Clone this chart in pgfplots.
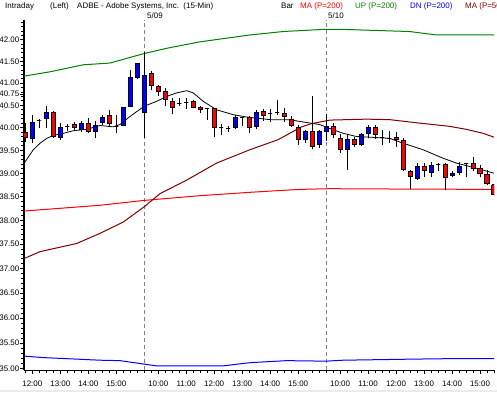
\documentclass[border=0pt]{standalone}
\usepackage{pgfplots}
\pgfplotsset{compat=1.18}
\usepackage{pgfplotstable}
\usetikzlibrary{calc}
\usepackage{fontspec}
\setmainfont{Liberation Sans}
\definecolor{upblue}{RGB}{0,0,255}
\definecolor{dnred}{RGB}{255,0,0}
\definecolor{mared}{RGB}{255,0,0}
\definecolor{madark}{RGB}{128,0,0}
\definecolor{upgreen}{RGB}{0,128,0}
\definecolor{divgray}{RGB}{128,128,128}

\pgfplotstableread{
i o h l c
0 39.90 40.11 39.70 39.80
1 39.77 40.29 39.66 40.11
2 40.15 40.20 40.00 40.15
3 40.20 40.49 40.00 40.33
4 40.33 40.37 39.77 39.81
5 39.80 40.11 39.74 40.00
6 40.03 40.08 39.94 40.03
7 40.07 40.13 39.94 40.00
8 39.97 40.14 39.92 40.09
9 40.09 40.22 39.90 39.92
10 39.92 40.14 39.77 40.06
11 40.12 40.29 40.07 40.23
12 40.27 40.40 40.03 40.09
13 40.03 40.29 39.88 40.03
14 40.06 40.47 40.03 40.46
15 40.48 41.31 40.46 41.14
16 41.12 41.47 41.10 41.46
17 40.33 41.72 39.77 41.18
18 41.22 41.27 40.85 40.95
19 40.93 40.95 40.72 40.81
20 40.81 40.89 40.49 40.63
21 40.59 40.67 40.30 40.46
22 40.55 40.67 40.48 40.55
23 40.57 40.67 40.42 40.57
24 40.58 40.63 40.44 40.46
25 40.44 40.48 40.33 40.40
26 40.42 40.44 40.18 40.42
27 40.42 40.44 39.81 40.00
28 40.00 40.09 39.85 40.00
29 39.99 40.03 39.92 39.99
30 40.00 40.29 39.97 40.22
31 40.22 40.24 40.03 40.22
32 40.22 40.27 39.90 40.01
33 40.02 40.39 39.97 40.33
34 40.37 40.42 40.14 40.28
35 40.31 40.42 40.12 40.31
36 40.34 40.63 40.29 40.34
37 40.31 40.44 40.12 40.24
38 40.18 40.27 40.02 40.05
39 40.00 40.05 39.63 39.74
40 39.75 39.96 39.68 39.91
41 39.91 40.70 39.53 39.60
42 39.63 39.96 39.55 39.91
43 39.91 40.31 39.71 40.02
44 40.02 40.11 39.77 39.85
45 39.77 39.87 39.45 39.53
46 39.53 39.85 39.08 39.75
47 39.75 39.81 39.58 39.63
48 39.63 39.90 39.59 39.85
49 39.88 40.07 39.77 40.00
50 40.00 40.07 39.76 39.87
51 39.79 39.96 39.63 39.79
52 39.78 39.94 39.66 39.78
53 39.80 39.92 39.58 39.75
54 39.72 39.77 39.05 39.08
55 39.05 39.08 38.67 38.93
56 38.90 39.24 38.87 39.15
57 39.15 39.24 38.92 39.07
58 39.02 39.26 38.92 39.19
59 39.21 39.24 39.07 39.21
60 39.21 39.23 38.64 38.92
61 38.95 39.05 38.92 39.01
62 39.03 39.26 38.97 39.15
63 39.22 39.23 38.92 39.22
64 39.23 39.37 39.07 39.12
65 39.12 39.19 38.92 39.00
66 38.99 39.08 38.76 38.78
67 38.76 38.77 38.53 38.54
}\candles

\pgfplotstableread{
x y
-0.19 39.22
1.14 39.52
2.1 39.66
3.06 39.77
4 39.83
5.43 39.88
6.86 39.94
8.77 39.97
10.67 40.05
12.57 40.02
13.53 40.07
14.96 40.25
17 40.48
18.77 40.59
20.2 40.70
21.63 40.78
23.06 40.83
24 40.78
25.43 40.59
27.34 40.40
29.71 40.29
31.63 40.24
34.96 40.18
37.81 40.18
39.24 40.14
42.1 40.07
44 39.96
45.43 39.88
47.34 39.81
49.24 39.80
52.1 39.77
54 39.66
56.86 39.52
59.71 39.34
61.63 39.23
64.49 39.12
67 39.01
}\blackma

\pgfplotstableread{
x y
-0.19 37.21
2.1 37.35
7.34 37.52
10.67 37.73
14 37.97
17 38.29
19.24 38.57
23.06 38.86
27.34 39.23
32.1 39.52
36.14 39.74
39.49 40.02
40.91 40.09
43.53 40.17
48.77 40.19
52.1 40.18
55.91 40.11
60.67 40.03
63.06 39.97
65.43 39.88
67 39.80
}\darkma

\pgfplotstableread{
x y
-0.19 38.20
10.67 38.32
16.96 38.43
24.96 38.53
32.1 38.60
39.24 38.66
43.53 38.68
53.53 38.67
67 38.66
}\redma

\pgfplotstableread{
x y
-0.19 41.16
3.53 41.26
8.29 41.42
12.1 41.46
15.43 41.61
17 41.68
20.2 41.80
24.96 41.95
32.1 42.11
36.86 42.19
42.53 42.24
45.53 42.24
54.96 42.19
58.77 42.11
67 42.11
}\upband

\pgfplotstableread{
x y
-0.19 35.25
2.57 35.22
5.91 35.20
10.67 35.17
13.53 35.16
17 35.09
18.77 35.06
28.29 35.06
32.1 35.12
37.34 35.16
42.96 35.15
45.43 35.17
55.43 35.19
60.67 35.20
67 35.20
}\dnband

\begin{document}
\begin{tikzpicture}[x=1bp,y=1bp,font=\fontsize{8}{9.6}\selectfont]
\begin{axis}[
  scale only axis,
  width=470bp, height=350bp,
  xmin=-0.19, xmax=67,
  y coord trafo/.code={\pgfmathparse{ln(#1)}},
  y coord inv trafo/.code={\pgfmathparse{exp(#1)}},
  ymin=34.977, ymax=42.461,
  axis x line*=bottom, axis y line*=left,
  axis line style={line width=1bp, black},
  tick align=outside,
  major tick length=4bp, minor tick length=2.5bp,
  every tick/.style={black, line width=0.8bp},
  xtick={1,5,9,13,19,23,27,31,35,39,45,49,53,57,61,65},
  xticklabels={12:00,13:00,14:00,15:00,10:00,11:00,12:00,13:00,14:00,15:00,10:00,11:00,12:00,13:00,14:00,15:00},
  minor xtick={0,1,...,67},
  ytick={35,35.5,36,36.5,37,37.5,38,38.5,39,39.5,40,40.5,41,41.5,42},
  yticklabels={35.00,35.50,36.00,36.50,37.00,37.50,38.00,38.50,39.00,39.50,40.00,40.50,41.00,41.50,42.00},
  extra y ticks={40.75}, extra y tick labels={40.75},
  minor ytick={35.1,35.2,35.3,35.4,35.6,35.7,35.8,35.9,36.1,36.2,36.3,36.4,36.6,36.7,36.8,36.9,37.1,37.2,37.3,37.4,37.6,37.7,37.8,37.9,38.1,38.2,38.3,38.4,38.6,38.7,38.8,38.9,39.1,39.2,39.3,39.4,39.6,39.7,39.8,39.9,40.1,40.2,40.3,40.4,40.6,40.7,40.8,40.9,41.1,41.2,41.3,41.4,41.6,41.7,41.8,41.9,42.1,42.2,42.3,42.4},
  yticklabel style={inner sep=0.5bp},
  xticklabel style={inner sep=1bp, yshift=-6bp},
  tick label style={font=\fontsize{8}{9.6}\selectfont},
]
\coordinate (O) at (rel axis cs:0,0);
% day dividers
\addplot[divgray, line width=1bp, dash pattern=on 4bp off 3bp, forget plot] coordinates {(17,34.977) (17,42.461)};
\addplot[divgray, line width=1bp, dash pattern=on 4bp off 3bp, forget plot] coordinates {(43,34.977) (43,42.461)};
% bands and averages
\addplot[mared, line width=1bp, forget plot] table {\redma};
\addplot[madark, line width=1bp, forget plot] table {\darkma};
\addplot[upgreen, line width=1bp, forget plot] table {\upband};
\addplot[upblue, line width=1bp, forget plot] table {\dnband};
\addplot[black, line width=0.8bp, forget plot] table {\blackma};
% candles
\pgfplotsinvokeforeach{0,...,67}{
  \pgfplotstablegetelem{#1}{o}\of\candles \edef\vo{\pgfplotsretval}
  \pgfplotstablegetelem{#1}{h}\of\candles \edef\vh{\pgfplotsretval}
  \pgfplotstablegetelem{#1}{l}\of\candles \edef\vl{\pgfplotsretval}
  \pgfplotstablegetelem{#1}{c}\of\candles \edef\vc{\pgfplotsretval}
  \pgfmathsetmacro\xa{#1-0.29}
  \pgfmathsetmacro\xb{#1+0.29}
  \ifdim\vc pt>\vo pt \def\col{upblue}\else\ifdim\vc pt<\vo pt \def\col{dnred}\else\def\col{black}\fi\fi
  \edef\temp{\noexpand\addplot[forget plot, black, line width=1bp] coordinates {(#1,\vl) (#1,\vh)};
    \noexpand\addplot[forget plot, draw=black, fill=\col, line width=1bp] coordinates {(\xa,\vo) (\xb,\vo) (\xb,\vc) (\xa,\vc) (\xa,\vo)};}
  \temp
}
\end{axis}
\pgfresetboundingbox
\path[use as bounding box] ($(O)+(-24,-22)$) rectangle ($(O)+(473,370)$);
\fill[black!8] ($(O)+(-24,-22)$) rectangle ($(O)+(473,-19.5)$);
% header (positions relative to the plot corner)
\node[anchor=base west, inner sep=0] at ($(O)+(-19,361.5)$) {Intraday};
\node[anchor=base west, inner sep=0] at ($(O)+(26,361.5)$) {(Left)};
\node[anchor=base west, inner sep=0] at ($(O)+(53,361.5)$) {ADBE - Adobe Systems, Inc.\ \ (15-Min)};
\node[anchor=base west, inner sep=0] at ($(O)+(257,361.5)$) {Bar};
\node[anchor=base west, inner sep=0, text=mared] at ($(O)+(276,361.5)$) {MA (P=200)};
\node[anchor=base west, inner sep=0, text=upgreen] at ($(O)+(331,361.5)$) {UP (P=200)};
\node[anchor=base west, inner sep=0, text=upblue] at ($(O)+(386,361.5)$) {DN (P=200)};
\node[anchor=base west, inner sep=0, text=madark] at ($(O)+(441,361.5)$) {MA (P=50)};
\node[anchor=base west, inner sep=0] at ($(O)+(123,351.7)$) {5/09};
\node[anchor=base west, inner sep=0] at ($(O)+(304,351.7)$) {5/10};
\end{tikzpicture}
\end{document}
